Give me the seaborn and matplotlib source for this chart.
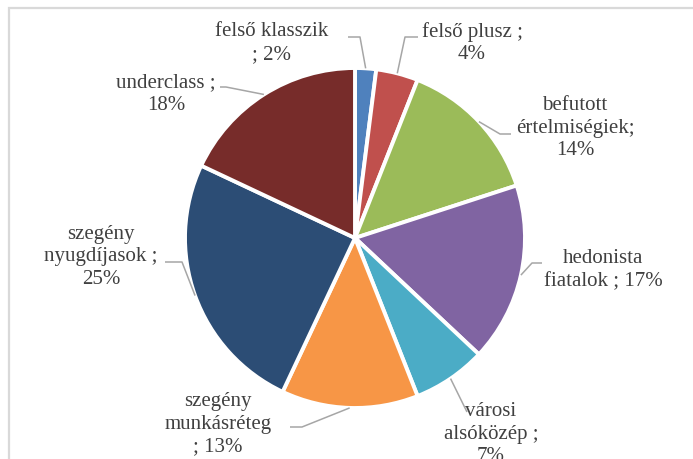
import matplotlib
matplotlib.use("Agg")
import matplotlib.pyplot as plt
import numpy as np
import seaborn as sns
from matplotlib.patches import Rectangle

# data
categories = [
    "felső klasszik",
    "felső plusz",
    "befutott értelmiségiek",
    "hedonista fiatalok",
    "városi alsóközép",
    "szegény munkásréteg",
    "szegény nyugdíjasok",
    "underclass",
]
label_texts = [
    "felső klasszik\n; 2%",
    "felső plusz ;\n4%",
    "befutott\nértelmiségiek;\n14%",
    "hedonista\nfiatalok ; 17%",
    "városi\nalsóközép ;\n7%",
    "szegény\nmunkásréteg\n; 13%",
    "szegény\nnyugdíjasok ;\n25%",
    "underclass ;\n18%",
]
shares = [2, 4, 14, 17, 7, 13, 25, 18]
colors = ["#4F81BD", "#C0504D", "#9BBB59", "#8064A2",
          "#4BACC6", "#F79646", "#2C4D75", "#772C2A"]

# layout (pixels of the 693x459 picture)
W, H = 693, 459
CX, CY, R = 355, 238, 170
text_px = [(272, 43), (472, 43), (575, 128), (603, 270),
           (491, 434), (218, 424), (101, 257), (166, 94)]
elbow_px = [(360, 37), (405, 37), (500, 134), (532, 263),
            (467, 412), (302, 427), (182, 262), (226, 87)]
stub_px = [(348, 37), (418, 37), (511, 134), (542, 263),
           (467, 412), (290, 427), (165, 262), (220, 87)]


def to_data(p):
    return ((p[0] - CX) / R, (CY - p[1]) / R)


sns.set_theme(style="white")
plt.rcParams["font.family"] = ["Liberation Serif", "DejaVu Serif"]

fig = plt.figure(figsize=(W / 100, H / 100), dpi=100)
ax = fig.add_axes([0, 0, 1, 1])

wedges, _ = ax.pie(
    shares,
    colors=colors,
    startangle=90,
    counterclock=False,
    radius=1,
    wedgeprops=dict(edgecolor="white", linewidth=2.8),
)
ax.set_xlim(-CX / R, (W - CX) / R)
ax.set_ylim(-(H - CY) / R, CY / R)
ax.set_aspect("equal")
ax.axis("off")

line_col = "#A6A6A6"
for w, txt, tp, ep, sp in zip(wedges, label_texts, text_px, elbow_px, stub_px):
    mid = np.deg2rad((w.theta1 + w.theta2) / 2)
    anchor = (np.cos(mid), np.sin(mid))
    e = to_data(ep)
    s = to_data(sp)
    ax.plot([anchor[0], e[0], s[0]], [anchor[1], e[1], s[1]],
            color=line_col, lw=1.1, zorder=1, solid_capstyle="butt")
    tx, ty = to_data(tp)
    ax.text(tx, ty, txt, ha="center", va="center", fontsize=15,
            color="#404040", linespacing=1.27, zorder=3)

# chart frame
fig.patches.append(Rectangle((9 / W, -0.1), 1.2, (H - 8) / H + 0.1,
                             transform=fig.transFigure, fill=False,
                             edgecolor="#D9D9D9", lw=1.6))

fig.savefig("out.png", dpi=100, facecolor="white")
